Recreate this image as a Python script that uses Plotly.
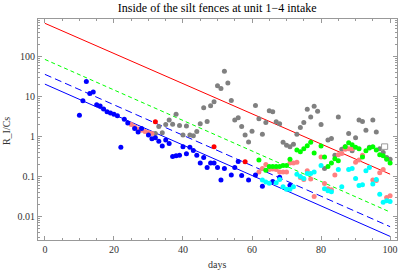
import plotly.graph_objects as go

# ---- data ----
blue_days = [10, 11, 12, 13, 14, 15, 16, 17, 18, 19, 20, 21, 22, 23, 24, 26, 27, 28, 30, 31, 32, 33, 34, 35, 36,
             37, 38, 39, 40, 41, 42, 43, 44, 45, 46, 47, 48, 49, 50, 51, 52, 54, 55, 56, 57, 59, 61, 63, 66, 68, 71]
blue_vals = [3.4, 7.9, 24, 12, 13, 6.3, 5.8, 4.9, 4.2, 3.9, 3.6, 3.3, 0.54, 2.7, 2.2, 1.6, 1.3, 1.6, 1.1, 0.88, 0.94,
             0.76, 0.58, 0.82, 0.67, 0.32, 0.33, 0.34, 0.56, 0.37, 0.54, 0.45, 0.34, 0.22, 0.30, 0.17, 0.22, 0.22,
             0.17, 0.082, 0.16, 0.11, 0.17, 0.24, 0.107, 0.082, 0.11, 0.057, 0.075, 0.096, 0.061]

gray_days = [32, 33, 34, 35, 36, 37, 38, 39, 40, 41, 42, 43, 44, 45, 46, 47, 48, 49, 50, 51, 52, 53, 54, 55, 56, 57,
             58, 59, 60, 61, 62, 63, 64, 65, 66, 67, 68, 69, 70, 71, 72, 73, 74, 75, 76, 77, 78, 79, 80, 81, 82, 83,
             84, 85, 86, 87, 88, 89, 90, 91, 92, 93, 94, 95, 96, 97, 98, 99, 100]
gray_vals = [1.2, 1.8, 1.25, 2.0, 2.6, 2.05, 3.6, 1.9, 1.1, 1.85, 1.1, 1.05, 1.35, 2.1, 5.3, 2.4, 5.9, 7.4, 18.7, 16,
             43, 22, 8.0, 2.6, 2.95, 1.8, 1.1, 0.73, 1.37, 6.0, 2.8, 1.15, 2.25, 4.4, 4.2, 2.35, 2.1, 0.72, 0.61, 0.56,
             0.64, 1.15, 1.7, 2.25, 4.8, 3.1, 5.7, 4.3, 2.0, 0.16, 0.82, 0.9, 0.34, 3.1, 0.48, 0.56, 1.2, 0.44, 0.94,
             2.6, 2.4, 1.45, 0.54, 2.6, 1.3, 0.5, 0.4, 0.3, 0.27]

salmon_days = [25, 26, 27, 28, 29, 30, 31, 62, 63, 64, 65, 66, 67, 68, 69, 70, 71, 72, 73, 74, 75, 76, 77, 78, 80,
               81, 82, 83, 84, 85, 86, 87, 88, 89, 90, 91, 92, 95, 96, 97, 98, 99, 100]
salmon_vals = [2.0, 1.76, 1.54, 1.45, 1.35, 1.27, 1.2, 0.13, 0.16, 0.2, 0.15, 0.155, 0.15, 0.13, 0.13, 0.13, 0.22,
               0.22, 0.23, 0.095, 0.085, 0.14, 0.087, 0.032, 0.31, 0.067, 0.05, 0.047, 0.11, 0.35, 0.38, 0.48, 0.5,
               0.5, 0.23, 0.26, 0.34, 0.082, 0.08, 0.125, 0.15, 0.03, 0.033]

red_days = [32, 49, 58]
red_vals = [2.35, 0.56, 0.235]

green_days = [62, 64, 65, 66, 67, 68, 69, 70, 71, 73, 74, 75, 76, 77, 78, 80, 81, 82, 83, 84, 85, 87, 88, 89, 90,
              91, 92, 93, 94, 95, 96, 97, 98, 99, 100]
green_vals = [0.26, 0.145, 0.18, 0.18, 0.18, 0.18, 0.19, 0.19, 0.27, 0.46, 0.42, 0.5, 0.59, 0.72, 0.39, 0.58, 0.31,
              0.18, 0.22, 0.28, 0.25, 0.56, 0.7, 0.63, 0.54, 0.5, 0.31, 0.44, 0.52, 0.56, 0.46, 0.35, 0.33, 0.27, 0.22]

cyan_days = [63, 64, 65, 67, 68, 69, 70, 71, 72, 73, 74, 75, 76, 77, 78, 80, 81, 82, 83, 85, 86, 88, 89, 90, 91, 92,
             93, 94, 95, 96, 97, 98, 99, 100]
cyan_vals = [0.082, 0.073, 0.068, 0.07, 0.085, 0.056, 0.048, 0.048, 0.056, 0.115, 0.10, 0.09, 0.12, 0.12, 0.13, 0.19,
             0.05, 0.044, 0.042, 0.15, 0.056, 0.15, 0.16, 0.09, 0.06, 0.063, 0.14, 0.17, 0.065, 0.085, 0.036, 0.023,
             0.025, 0.024]

# decay reference lines (end points)
line_days = [0, 100]
red_line = [680, 0.115]
green_line = [85, 0.013]
blue_dash_line = [36, 0.0056]
blue_line = [20.5, 0.0032]

x_ticks = [0, 20, 40, 60, 80, 100]
y_ticks = [0.01, 0.1, 1, 10, 100]
y_tick_text = ["0.01", "0.1", "1", "10", "100"]

FONT = "Liberation Serif"

fig = go.Figure()

def line(y, color, dash):
    fig.add_trace(go.Scatter(x=line_days, y=y, mode="lines",
                             line=dict(color=color, width=1, dash=dash),
                             hoverinfo="skip", showlegend=False))

line(red_line, "#FF0000", "solid")
line(green_line, "#00FF00", "4px,3px")
line(blue_dash_line, "#0000FF", "7px,4px")
line(blue_line, "#0000FF", "solid")

def pts(x, y, color):
    fig.add_trace(go.Scatter(x=x, y=y, mode="markers",
                             marker=dict(color=color, size=5, line=dict(width=0)),
                             showlegend=False))

pts(gray_days, gray_vals, "#808080")
pts(salmon_days, salmon_vals, "#FF8080")
pts(blue_days, blue_vals, "#0000FF")
pts(green_days, green_vals, "#00FF00")
pts(cyan_days, cyan_vals, "#00FFFF")
pts(red_days, red_vals, "#FF0000")

axis_common = dict(showgrid=False, zeroline=False, showline=True, linecolor="#999999", linewidth=1,
                   mirror="allticks", ticks="inside", tickcolor="#999999", ticklen=4, automargin=False,
                   tickfont=dict(family=FONT, size=10, color="#333333"))

fig.update_xaxes(range=[-2, 102], tickvals=x_ticks, **axis_common,
                 minor=dict(ticks="inside", ticklen=2, dtick=5, tickcolor="#999999"))
fig.update_yaxes(type="log", range=[-2.585, 2.94], tickvals=y_ticks, ticktext=y_tick_text, **axis_common,
                 minor=dict(ticks="inside", ticklen=2, tickcolor="#999999", dtick="D1"))

fig.add_annotation(text="days", xref="paper", yref="paper", x=0.4986, y=-0.113, yanchor="middle",
                   showarrow=False, font=dict(family=FONT, size=10, color="#333333"))
fig.add_annotation(text="R_I/Cs", xref="paper", yref="paper", x=-0.089, y=0.493, textangle=-90,
                   xanchor="center", yanchor="middle", showarrow=False,
                   font=dict(family=FONT, size=10, color="#333333"))

fig.add_shape(type="rect", xref="paper", yref="paper", x0=0.957, x1=0.974, y0=0.41, y1=0.435,
              line=dict(color="#999999", width=1), fillcolor="white")

fig.update_layout(
    width=400, height=271,
    margin=dict(l=38, r=3, t=19, b=31),
    paper_bgcolor="white", plot_bgcolor="white",
    title=dict(text="Inside of the silt fences at unit 1\u22124 intake", x=0.543, xanchor="center",
               yref="container", y=0.97, yanchor="middle",
               font=dict(family=FONT, size=12, color="#000000")),
)

fig.write_html("out.html", config={"displayModeBar": False},
               post_script="document.body.style.margin='0';")
